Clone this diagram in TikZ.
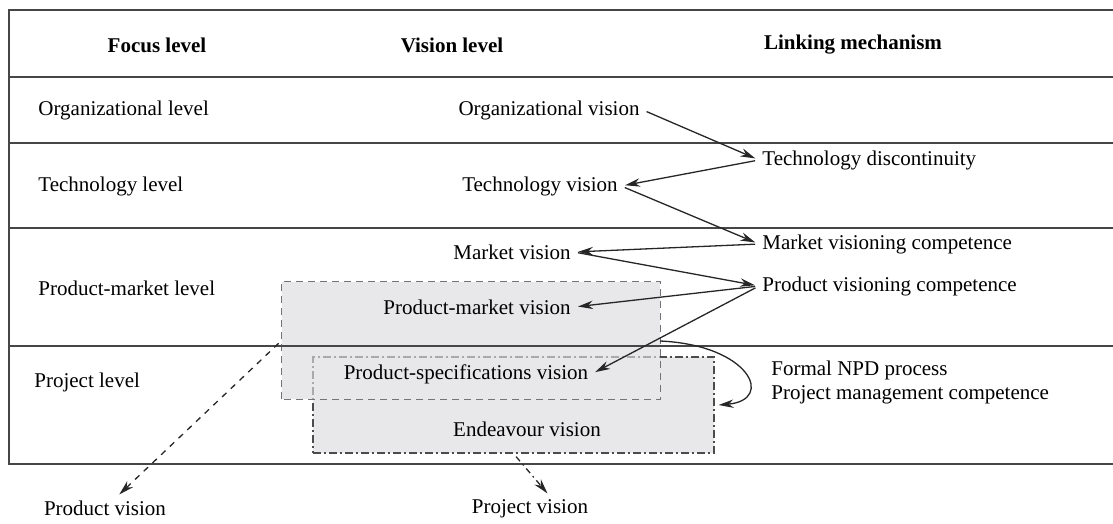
\documentclass[tikz,border=0pt]{standalone}
\usepackage{fontspec}
\setmainfont{Liberation Serif}
\usetikzlibrary{arrows.meta}
\definecolor{visfill}{RGB}{232,232,235}
\definecolor{rulegray}{RGB}{70,70,70}
\newcommand{\hd}[1]{{\bfseries #1}}

\begin{document}
\begin{tikzpicture}[x=0.5pt,y=-0.5pt,
    every node/.style={font=\fontsize{10.5}{12}\selectfont, inner sep=1.5pt},
    lbl/.style={anchor=west},
    link/.style={-{Stealth[length=7.5pt,width=4.2pt]}, line width=0.65pt, black!85, shorten <=2pt, shorten >=2pt},
    rule/.style={rulegray, line width=0.75pt},
    pmdash/.style={draw=black!55, dash pattern=on 3.5pt off 2.5pt, line width=0.6pt}]
    \useasboundingbox (0,0) rectangle (1113,524);

    % shaded vision areas, the product-market one laid over the endeavour one
    \node[fill=visfill, minimum width=189pt, minimum height=58.5pt, inner sep=0](pmbox) at (471,340.5) {};
    \node[draw=black!70, fill=visfill, dash pattern=on 4pt off 1.5pt on 1pt off 1.5pt, line width=0.6pt, minimum width=200.5pt, minimum height=48pt, inner sep=0](endbox) at (513.5,405) {};
    \fill[visfill, fill opacity=0.6] (pmbox.south west) rectangle (pmbox.north east);
    \draw[pmdash] (pmbox.south west) rectangle (pmbox.north east);

    % table frame
    \draw[rule] (1113,10) -- (9,10) -- (9,464) -- (1113,464);
    \foreach \y in {77,143,228,346} \draw[rule] (9,\y) -- (1113,\y);

    \node(hfocus) at (157,45) {\hd{Focus level}};
    \node(hvision) at (452,45) {\hd{Vision level}};
    \node(hlink) at (853,45) {\hd{Linking mechanism}};

    \node[lbl](orglev) at (35,110) {Organizational level};
    \node[lbl](techlev) at (35,186) {Technology level};
    \node[lbl](pmlev) at (35,288) {Product-market level};
    \node[lbl](projlev) at (31,382) {Project level};

    \node(orgvis) at (549,110) {Organizational vision};
    \node(techvis) at (540,186) {Technology vision};
    \node(mktvis) at (512,252) {Market vision};
    \node(pmvis) at (477,307) {Product-market vision};
    \node(specvis) at (466,374) {Product-specifications vision};
    \node(endvis) at (527,429) {Endeavour vision};

    \node[lbl](techdisc) at (759,160) {Technology discontinuity};
    \node[lbl](mktcomp) at (759,244) {Market visioning competence};
    \node[lbl](prodcomp) at (759,286) {Product visioning competence};
    \node[lbl, align=left](npd) at (768,382) {Formal NPD process\\Project management competence};

    \node(prodvis) at (105,508) {Product vision};
    \node(projvis) at (530,509) {Project vision};

    \draw[link] (orgvis.east) -- (techdisc.west);
    \draw[link] (techdisc.west) -- (techvis.east);
    \draw[link] (techvis.east) -- (mktcomp.west);
    \draw[link] (mktcomp.west) -- (mktvis.east);
    \draw[link] (mktvis.east) -- (prodcomp.west);
    \draw[link] (prodcomp.west) -- (pmvis.east);
    \draw[link] (prodcomp.west) -- (specvis.east);

    \coordinate (npdstart) at (660,341);
    \draw[link, shorten <=0pt, shorten >=0pt] (npdstart) .. controls (750,345) and (775,400) .. ([xshift=2pt]endbox.east);

    \draw[link, dash pattern=on 3pt off 3pt] (pmbox.west) -- (prodvis);
    \draw[link, dash pattern=on 3pt off 2pt on 0.8pt off 2pt] (endbox.south) -- ([xshift=10pt]projvis.north);
\end{tikzpicture}
\end{document}
